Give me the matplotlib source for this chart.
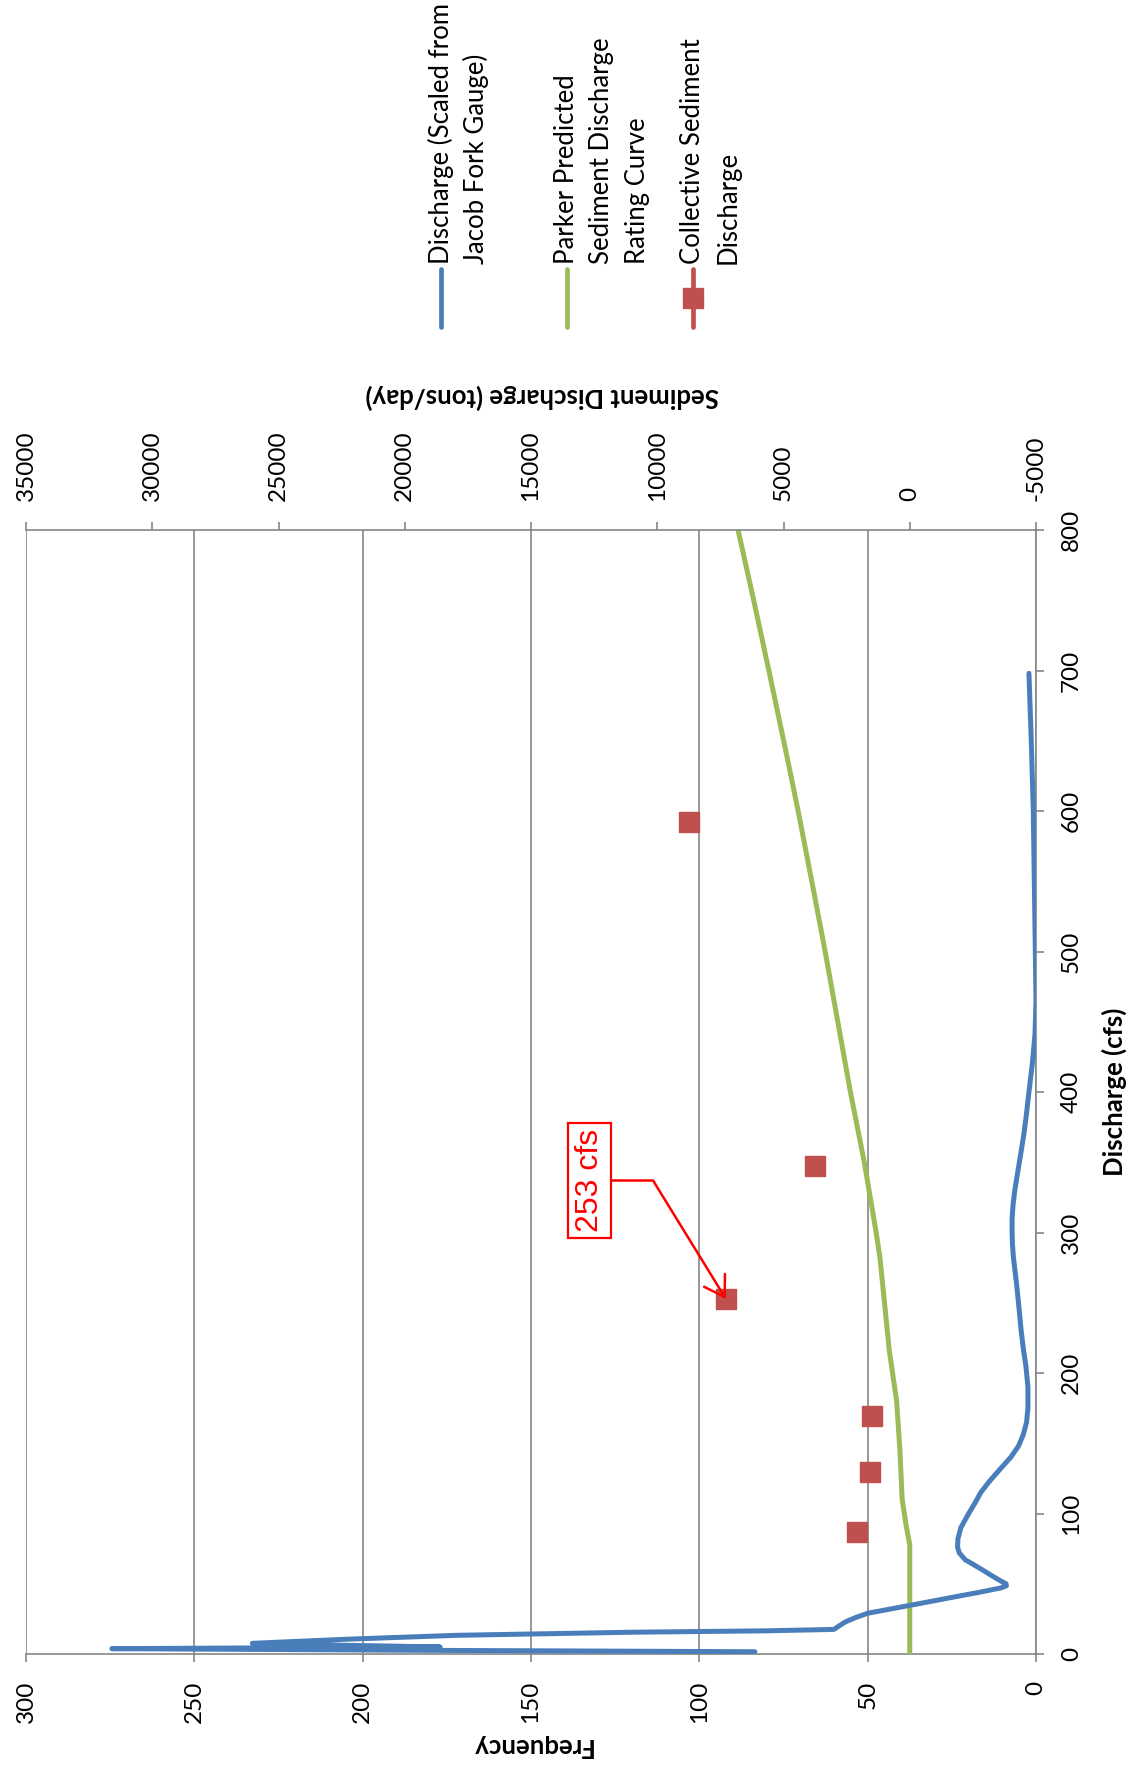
import numpy as np
import matplotlib
matplotlib.use("Agg")
import matplotlib.pyplot as plt
from matplotlib.lines import Line2D

plt.rcParams['font.family'] = ['Lato', 'DejaVu Sans']
plt.rcParams['axes.unicode_minus'] = False

# blue: frequency of discharge (scaled from Jacob Fork gauge)
q_blue = [1.6, 2.6, 3.8, 4.4, 5.0, 6.2, 7.6, 10.5, 13.3, 15.5, 16.5, 17.5, 20, 23, 26,
          29, 32, 36, 40, 44, 47, 48.5, 50, 52, 56, 60, 64, 67, 72, 76, 82, 90, 100,
          108, 115, 123, 132, 140, 148, 156, 165, 175, 190, 205, 216, 230, 245, 264,
          282, 292, 300, 310, 320, 330, 339, 355, 370, 385, 400, 420, 441, 465, 500,
          550, 600, 650, 698]
freq_blue = [83.5, 180, 274.5, 225, 177, 205, 232.8, 205, 172, 120, 80, 60, 58.5, 56.5,
             53.5, 50, 43.3, 34.4, 25.6, 16.7, 10.5, 8.8, 8.9, 10.5, 13.3, 16, 18.8, 21,
             22.8, 23.3, 23.2, 22.3, 20, 18, 16.4, 13.8, 10.5, 7.5, 5.2, 3.8, 2.8, 2.4,
             2.4, 3.0, 3.7, 4.4, 5.0, 5.8, 6.7, 7.0, 7.1, 7.1, 6.8, 6.3, 5.7, 4.6, 3.6,
             2.8, 2.1, 1.1, 0.3, 0, 0.2, 0.5, 0.8, 1.4, 2.1]

# green: Parker predicted sediment discharge rating curve
q_green = [0, 78, 90, 110, 145, 180, 216, 250, 282, 300, 350, 400, 450, 500, 550, 600,
           642, 700, 750, 800]
sed_green = [0, 0, 130, 300, 390, 520, 810, 1000, 1180, 1330, 1800, 2350, 2850, 3350,
             3880, 4420, 4900, 5580, 6180, 6800]

# red: collective sediment discharge
q_red = [86.7, 129.3, 169.3, 252.7, 347.6, 592.4]
sed_red = [2080, 1570, 1510, 7280, 3770, 8740]

freq_ticks = np.arange(0, 301, 50)
q_ticks = np.arange(0, 801, 100)
sed_ticks = np.arange(-5000, 35001, 5000)

W, H = 1132, 1771
fx = lambda px: px / W
fy = lambda py: 1 - py / H

blue = '#4A7EBB'
green = '#9BBB59'
red = '#C0504D'
gray = '#868686'

fig = plt.figure(figsize=(W / 100, H / 100), dpi=100)
ax = fig.add_axes([fx(26), fy(1654), (1036 - 26) / W, (1654 - 530) / H])
ax2 = ax.twiny()

ax2.plot(sed_green, q_green, color=green, lw=3.6, zorder=2)
ax2.plot(sed_red, q_red, 's', color=red, ms=15, zorder=4)
ax2.plot(freq_blue, q_blue, color=blue, lw=3.6, solid_capstyle='round',
         solid_joinstyle='round', transform=ax.transData, zorder=3)

ax.set_xlim(300, 0)
ax.set_ylim(0, 800)
ax2.set_xlim(35000, -5000)
ax2.set_ylim(0, 800)

ax.set_xticks(freq_ticks)
ax.set_yticks(q_ticks)
ax2.set_xticks(sed_ticks)
ax.grid(axis='x', color=gray, lw=1.2)
ax.set_axisbelow(True)

ax.yaxis.tick_right()
ax.yaxis.set_label_position('right')
for a in (ax, ax2):
    for s in a.spines.values():
        s.set_color(gray)
        s.set_linewidth(1.2)
ax.spines['left'].set_visible(False)
ax.spines['top'].set_visible(False)
for k in ('left', 'right', 'bottom'):
    ax2.spines[k].set_visible(False)

tick_kw = dict(direction='out', length=6, width=1.2, color=gray, labelsize=17.5,
               labelrotation=90, labelcolor='black')
ax.tick_params(axis='x', pad=13, **tick_kw)
ax.tick_params(axis='y', pad=12, **tick_kw)
ax2.tick_params(axis='x', pad=15, **tick_kw)
for lab in ax.get_yticklabels():
    lab.set_va('center')

ax.set_ylabel('Discharge (cfs)', fontsize=18.5, fontweight='bold', labelpad=14)
ax.set_xlabel('Frequency', fontsize=18.5, fontweight='bold', rotation=180, labelpad=8)
ax2.set_xlabel('Sediment Discharge (tons/day)', fontsize=18.5, fontweight='bold',
               rotation=180)
ax2.xaxis.set_label_coords(0.511, 1.119)
ax2.xaxis.label.set_va('center')

ax2.annotate('253 cfs', xy=(sed_red[3], q_red[3]), xytext=(12683, 337),
             textcoords='data', ha='center', va='center', rotation=90, color='red',
             fontsize=23, family=['Liberation Sans'],
             bbox=dict(boxstyle='square,pad=0.2', fc='white', ec='red', lw=1.6),
             arrowprops=dict(arrowstyle='->,head_length=0.7,head_width=0.44',
                             color='red', lw=1.8, shrinkA=0, shrinkB=0,
                             mutation_scale=20,
                             connectionstyle='angle,angleA=0,angleB=121.6,rad=0'),
             zorder=6)

# legend drawn by hand, rotated like the rest of the chart
entries = [
    (441, blue, None, ['Discharge (Scaled from', 'Jacob Fork Gauge)']),
    (567, green, None, ['Parker Predicted', 'Sediment Discharge', 'Rating Curve']),
    (693, red, 's', ['Collective Sediment', 'Discharge']),
]
for x0, col, mk, lines in entries:
    fig.add_artist(Line2D([fx(x0), fx(x0)], [fy(327), fy(269)], color=col, lw=3.4,
                          solid_capstyle='round', transform=fig.transFigure))
    if mk:
        fig.add_artist(Line2D([fx(x0)], [fy(298)], marker=mk, ms=13.7, color=col,
                              transform=fig.transFigure))
    for i, t in enumerate(lines):
        fig.text(fx(x0 + 35 * i), fy(264), t, rotation=90, ha='center', va='bottom',
                 fontsize=18.5)

fig.savefig('out.png', dpi=100)
